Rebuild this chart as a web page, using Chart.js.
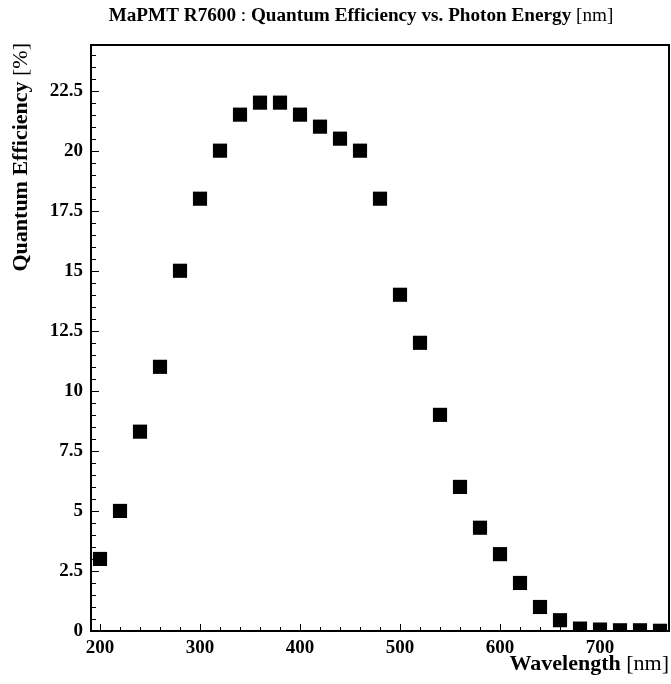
<!DOCTYPE html>
<html>
<head>
<meta charset="utf-8">
<script src="https://cdn.jsdelivr.net/npm/chart.js@4"></script>
<style>
  html, body { margin: 0; padding: 0; background: #fff; overflow: hidden; }
  #qeChart { display: block; }
</style>
</head>
<body>
<canvas id="qeChart" width="671" height="684"></canvas>
<script>
//------------------------------ MaPMT R7600 quantum efficiency -----------------

const wavelengths = [200, 220, 240, 260, 280, 300, 320, 340, 360, 380,
                     400, 420, 440, 460, 480, 500, 520, 540, 560, 580,
                     600, 620, 640, 660, 680, 700, 720, 740, 760];

const efficiency = [3, 5, 8.3, 11, 15, 18, 20, 21.5, 22, 22,
                    21.5, 21, 20.5, 20, 18, 14, 12, 9, 6, 4.3,
                    3.2, 2, 1, 0.45, 0.1, 0.06, 0.03, 0.03, 0.01];

const xTicks = [200, 300, 400, 500, 600, 700];
const yTicks = [0, 2.5, 5, 7.5, 10, 12.5, 15, 17.5, 20, 22.5];

const X_MIN = 191, X_MAX = 769;
const Y_MIN = 0, Y_MAX = 24.4;

const SERIF = '"Liberation Serif", "Times New Roman", serif';

// widths of the bold / regular pieces of one text line
function pieceWidths(ctx, pieces, size) {
    return pieces.map(p => {
        ctx.font = (p.bold ? 'bold ' : '') + size + 'px ' + SERIF;
        return ctx.measureText(p.text).width;
    });
}

function writePieces(ctx, pieces, size, x, y, align) {
    const widths = pieceWidths(ctx, pieces, size);
    const total = widths.reduce((a, b) => a + b, 0);
    let cx = align === 'right' ? x - total : align === 'center' ? x - total / 2 : x;
    ctx.textAlign = 'left';
    ctx.textBaseline = 'alphabetic';
    pieces.forEach((p, i) => {
        ctx.font = (p.bold ? 'bold ' : '') + size + 'px ' + SERIF;
        ctx.fillText(p.text, cx, y);
        cx += widths[i];
    });
}

// ROOT-like frame, inward ticks and titles
const rootFrame = {
    id: 'rootFrame',
    afterDraw(chart) {
        const ctx = chart.ctx;
        const a = chart.chartArea;
        const xs = chart.scales.x, ys = chart.scales.y;
        ctx.save();
        ctx.fillStyle = '#000';
        ctx.strokeStyle = '#000';

        // ticks
        ctx.lineWidth = 1;
        ctx.beginPath();
        for (let v = 200; v <= X_MAX; v += 20) {
            const px = Math.round(xs.getPixelForValue(v)) + 0.5;
            const len = (v % 100 === 0) ? 7 : 4;
            ctx.moveTo(px, a.bottom);
            ctx.lineTo(px, a.bottom - len);
        }
        for (let v = 0; v <= Y_MAX; v += 0.5) {
            const py = Math.round(ys.getPixelForValue(v)) + 0.5;
            const len = (Math.abs(v / 2.5 - Math.round(v / 2.5)) < 1e-6) ? 8 : 5;
            ctx.moveTo(a.left, py);
            ctx.lineTo(a.left + len, py);
        }
        ctx.stroke();

        // frame
        ctx.lineWidth = 2;
        ctx.strokeRect(a.left, a.top, a.right - a.left, a.bottom - a.top);

        // title
        writePieces(ctx, [
            {text: 'MaPMT R7600', bold: true},
            {text: ' : ', bold: false},
            {text: 'Quantum Efficiency vs. Photon Energy', bold: true},
            {text: ' [nm]', bold: false}
        ], 19.2, 361, 21, 'center');

        // x axis title
        writePieces(ctx, [
            {text: 'Wavelength', bold: true},
            {text: ' [nm]', bold: false}
        ], 22, a.right, 670, 'right');

        // y axis title
        ctx.save();
        ctx.translate(27, a.top - 2);
        ctx.rotate(-Math.PI / 2);
        writePieces(ctx, [
            {text: 'Quantum Efficiency', bold: true},
            {text: ' [%]', bold: false}
        ], 22, 0, 0, 'right');
        ctx.restore();

        ctx.restore();
    }
};

const dataQE = {
    datasets: [{
        label: 'Quantum Efficiency',
        data: wavelengths.map((w, i) => ({x: w, y: efficiency[i]})),
        pointStyle: 'rect',
        pointRadius: 10,
        pointHoverRadius: 10,
        backgroundColor: '#000',
        borderWidth: 0,
        showLine: false,
        clip: 0
    }]
};

const tickFont = {family: SERIF, size: 19, weight: 'bold'};

const configQE = {
    type: 'scatter',
    data: dataQE,
    options: {
        responsive: false,
        devicePixelRatio: 1,
        animation: false,
        layout: {
            autoPadding: false,
            padding: {top: 45, right: 2, left: 0, bottom: 0}
        },
        plugins: {
            legend: { display: false },
            title: { display: false },
            tooltip: { enabled: false }
        },
        scales: {
            x: {
                type: 'linear',
                min: X_MIN,
                max: X_MAX,
                grid: { display: false, drawTicks: false },
                border: { display: false },
                afterBuildTicks: s => { s.ticks = xTicks.map(v => ({value: v})); },
                afterFit: s => {
                    s.height = 53;
                    s.paddingLeft = 0;
                    s.paddingRight = 0;
                },
                ticks: {
                    autoSkip: false,
                    maxRotation: 0,
                    padding: 6,
                    color: '#000',
                    font: tickFont,
                    callback: v => String(v)
                }
            },
            y: {
                type: 'linear',
                min: Y_MIN,
                max: Y_MAX,
                grid: { display: false, drawTicks: false },
                border: { display: false },
                afterBuildTicks: s => { s.ticks = yTicks.map(v => ({value: v})); },
                afterFit: s => {
                    s.width = 91;
                    s.paddingTop = 0;
                    s.paddingBottom = 0;
                },
                ticks: {
                    autoSkip: false,
                    padding: 8,
                    color: '#000',
                    font: tickFont,
                    callback: v => String(v)
                }
            }
        }
    },
    plugins: [rootFrame]
};

var chartQE = new Chart(
    document.getElementById('qeChart'),
    configQE
);
</script>
</body>
</html>
